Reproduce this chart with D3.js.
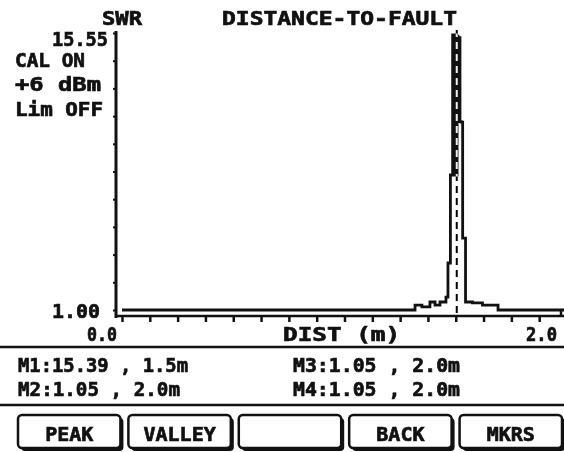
<!DOCTYPE html>
<html><head><meta charset="utf-8">
<script src="https://cdn.jsdelivr.net/npm/d3@7/dist/d3.min.js"></script>
<style>
html,body{margin:0;padding:0;background:#fff;overflow:hidden;}
svg{display:block;}
text{font-family:"DejaVu Sans Mono",monospace;font-weight:bold;fill:#111;stroke:#111;stroke-width:0.7px;}
</style></head><body>
<svg id="c" width="564" height="452"></svg>
<script>
// ---- data ----
const distM = [0.00, 1.317, 1.348, 1.384, 1.407, 1.429, 1.456, 1.465, 1.476, 1.486, 1.492, 1.498, 1.502, 1.506, 1.510, 1.515, 1.519, 1.524, 1.531, 1.544, 1.575, 1.620, 1.690, 2.00];
const swr   = [1.00, 1.26,  1.16,  1.42,  1.26,  1.42,  1.68,  3.47,  8.09,  15.45, 8.09,  15.45, 8.09,  15.39, 10.90, 15.30, 10.90, 10.87, 4.78,  1.42,  1.37,  1.26,  1.00,  1.00];
const yDomain = [1.00, 15.55];
const xDomain = [0.0, 2.0];
const yTickLabels = ["1.00", "15.55"];
const xTickLabels = ["0.0", "2.0"];
const xTickCount = 16;   // divisions on distance axis
const yTickCount = 10;   // divisions on SWR axis
const title = "DISTANCE-TO-FAULT";
const yName = "SWR";
const xName = "DIST  (m)";
const statusLines = ["CAL ON", "+6 dBm", "Lim OFF"];
const markerNames = ["M1", "M2", "M3", "M4"];
const markerSwr   = ["15.39", "1.05", "1.05", "1.05"];
const markerDist  = ["1.5m", "2.0m", "2.0m", "2.0m"];
const activeMarkerDist = 1.5;
const buttons = ["PEAK", "VALLEY", "", "BACK", "MKRS"];

// ---- drawing ----
const svg = d3.select("#c");
const x = d3.scaleLinear().domain(xDomain).range([122, 567]);
const y = d3.scaleLinear().domain(yDomain).range([310, 33]);
const ink = "#111";

// y axis (ticks on left)
const yTicks = d3.range(yTickCount + 1).map(i => yDomain[0] + i * (yDomain[1] - yDomain[0]) / yTickCount);
const yAx = svg.append("g").attr("transform", "translate(116,0)")
  .call(d3.axisLeft(y).tickValues(yTicks).tickSize(3).tickFormat(""));
yAx.select(".domain").remove();
yAx.selectAll("line").attr("stroke", ink).attr("stroke-width", 2);
svg.append("line").attr("x1", 116).attr("x2", 116).attr("y1", 31).attr("y2", 318)
  .attr("stroke", ink).attr("stroke-width", 3);

// x axis
const xTicks = d3.range(xTickCount + 1).map(i => xDomain[0] + i * (xDomain[1] - xDomain[0]) / xTickCount);
const xAx = svg.append("g").attr("transform", "translate(0,317)")
  .call(d3.axisBottom(x).tickValues(xTicks).tickSize(5).tickFormat(""));
xAx.select(".domain").remove();
xAx.selectAll("line").attr("stroke", ink).attr("stroke-width", 2.5);
svg.append("line").attr("x1", 115).attr("x2", 567).attr("y1", 316).attr("y2", 316)
  .attr("stroke", ink).attr("stroke-width", 2.5);
svg.append("line").attr("x1", 561).attr("x2", 561).attr("y1", 309).attr("y2", 317)
  .attr("stroke", ink).attr("stroke-width", 2.5);

// trace
const pts = distM.map((d, i) => [d, swr[i]]);
svg.append("path").datum(pts)
  .attr("d", d3.line().x(d => x(d[0])).y(d => y(d[1])).curve(d3.curveStepAfter))
  .attr("fill", "none").attr("stroke", ink).attr("stroke-width", 2.8);

// active marker (XOR-style dashed line)
svg.append("line").attr("x1", x(activeMarkerDist) + 1).attr("x2", x(activeMarkerDist) + 1)
  .attr("y1", 30).attr("y2", 318)
  .attr("stroke", "#fff").attr("stroke-width", 2).attr("stroke-dasharray", "7,5")
  .style("mix-blend-mode", "difference");

// labels
const T = (s, xx, yy, anchor, size, len) => {
  const t = svg.append("text").attr("x", xx).attr("y", yy).attr("text-anchor", anchor || "start")
    .attr("font-size", size || 20).text(s);
  if (len) t.attr("textLength", len).attr("lengthAdjust", "spacingAndGlyphs");
  return t;
};
T(yName, 102, 25, "start", 20, 40);
T(title, 222, 25, "start", 20, 235);
T(yTickLabels[1], 108, 46, "end", 20, 56);
T(statusLines[0], 15, 67, "start", 20, 70);
T(statusLines[1], 15, 91, "start", 20, 86);
T(statusLines[2], 15, 116, "start", 20, 88);
T(yTickLabels[0], 100, 318, "end", 20, 48);
T(xTickLabels[0], 117, 341, "end", 20, 30);
T(xName, 283, 341, "start", 20, 117);
T(xTickLabels[1], 526, 341, "start", 20, 31);

// separators
svg.append("line").attr("x1", 0).attr("x2", 564).attr("y1", 347).attr("y2", 347).attr("stroke", ink).attr("stroke-width", 2.5);
svg.append("line").attr("x1", 0).attr("x2", 564).attr("y1", 405).attr("y2", 405).attr("stroke", ink).attr("stroke-width", 2.5);

// marker readouts
const mText = i => `${markerNames[i]}:${markerSwr[i]} , ${markerDist[i]}`;
T(mText(0), 18, 372, "start", 20, 170);
T(mText(1), 18, 396, "start", 20, 162);
T(mText(2), 293, 372, "start", 20, 167);
T(mText(3), 293, 396, "start", 20, 167);

// soft-key buttons
const bx = d3.scaleBand().domain(buttons.map((b, i) => i)).range([18, 565]).paddingInner(0.045);
buttons.forEach((b, i) => {
  const x0 = bx(i), w = bx.bandwidth() - 3;
  svg.append("rect").attr("x", x0 + 3).attr("y", 418).attr("width", w).attr("height", 33).attr("rx", 4).attr("fill", ink);
  svg.append("rect").attr("x", x0).attr("y", 415).attr("width", w).attr("height", 33).attr("rx", 4)
    .attr("fill", "#fff").attr("stroke", ink).attr("stroke-width", 2.5);
  if (b) T(b, x0 + w / 2, 441, "middle", 20);
});
</script>
</body></html>
